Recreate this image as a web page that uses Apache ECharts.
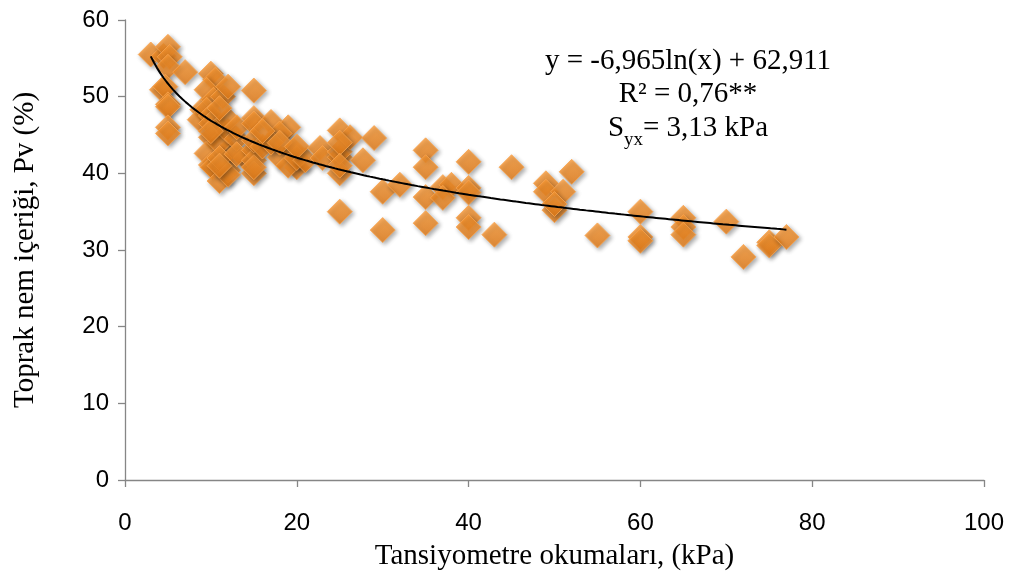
<!DOCTYPE html>
<html>
<head>
<meta charset="utf-8">
<script src="https://cdn.jsdelivr.net/npm/echarts@6/dist/echarts.min.js"></script>
<style>
html,body{margin:0;padding:0;background:#fff;}
#chart{width:1010px;height:577px;}
</style>
</head>
<body>
<div id="chart"></div>
<script>
// Tensiometer readings (kPa)
var xValues = [
  3,4.5,5,5.2,5,7,4.3,4.7,5,5,5,5,
  9,8.7,10,10.5,9.5,10.3,11.4,12,9.5,10,10,11,10,9.5,10,10.2,11,12,12,11,11,12,13,12,11,13,12,10,11,14,13,
  15,15,15,17,19,18,15,15,15,15,15,16,18,19.6,20,17,19,20,21,16,18,20,
  22.7,23,25,25,25,25,26.2,25,25,27.7,29,25,
  30,32,30,35,35,35,35,37,38,37,40,40,40,40,40,43,45,49,49,52,51,50,50,55,60,60,60,65,65,65,70,72,75,75,77
];
// Soil moisture Pv (%)
var yValues = [
  55.5,55.3,56.5,55.2,53.9,53.2,50.9,51.3,49,48.7,46,45.2,
  48.3,47,53,52.2,50.9,49.6,50,51.3,48.3,47.5,46.5,46,44.7,42.6,41.1,40.8,39,43,40.4,44,42,45.5,44.5,47,48.5,46,39.8,45.5,41,42,42.5,
  50.8,47.2,46.5,46.7,46,45.2,43,41.7,40,40.8,44.3,43.5,42.1,43,40.8,44,41,42,41.7,45.5,44,43.5,
  43.3,42,45.6,42.1,40,42.8,44.7,44,35,41.7,44.6,41,
  37.6,38.5,32.6,43,40.8,36.9,33.5,38.2,38.5,36.8,41.5,38.1,37.5,34.2,33,32,40.8,38.7,37.6,40.2,37.6,35.2,36,31.9,35,31.7,31.2,34.2,33,32,33.7,29.1,31,30.6,31.7
];
// Trendline coefficients as printed: y = a ln(x) + b, drawn over the data range
var trendCoef = [-6.965, 62.911];
var trendRange = [3, 77];
var xTicks = [0, 20, 40, 60, 80, 100];
var yTicks = [0, 10, 20, 30, 40, 50, 60];

var points = xValues.map(function(x, i){ return [x, yValues[i]]; });
var trend = [];
for (var i = 0; i <= 200; i++) {
  var x = trendRange[0] + (trendRange[1] - trendRange[0]) * i / 200;
  trend.push([x, trendCoef[0] * Math.log(x) + trendCoef[1]]);
}

var chart = echarts.init(document.getElementById('chart'));
var axisGray = '#868686';
var serif = '"Liberation Serif"';
chart.setOption({
  animation:false,
  backgroundColor:'#fff',
  grid:{left:125, right:26, top:20, bottom:97},
  xAxis:{
    type:'value', min:xTicks[0], max:xTicks[xTicks.length-1], interval:20,
    splitLine:{show:false},
    axisLine:{lineStyle:{color:axisGray, width:1.3}},
    axisTick:{show:true, length:7, lineStyle:{color:axisGray, width:1.3}},
    axisLabel:{margin:31, color:'#000', fontSize:24, fontFamily:'Liberation Sans'},
    name:'Tansiyometre okumaları, (kPa)', nameLocation:'middle', nameGap:62,
    nameTextStyle:{color:'#000', fontSize:29, fontFamily:'Liberation Serif'}
  },
  yAxis:{
    type:'value', min:yTicks[0], max:yTicks[yTicks.length-1], interval:10,
    splitLine:{show:false},
    axisLine:{show:true, lineStyle:{color:axisGray, width:1.3}},
    axisTick:{show:true, length:7, lineStyle:{color:axisGray, width:1.3}},
    axisLabel:{margin:16, color:'#000', fontSize:24, fontFamily:'Liberation Sans'},
    name:'Toprak nem içeriği, Pv (%)', nameLocation:'middle', nameGap:85,
    nameTextStyle:{color:'#000', fontSize:29, fontFamily:'Liberation Serif'}
  },
  series:[
    {
      type:'scatter', data:points, symbol:'diamond', symbolSize:25, z:2,
      itemStyle:{
        color:new echarts.graphic.LinearGradient(0,0,0,1,[
          {offset:0,color:'#FC9C38'},{offset:1,color:'#EA7E16'}
        ]),
        borderColor:'#F9A550', borderWidth:1,
        shadowBlur:4, shadowColor:'rgba(0,0,0,0.4)', shadowOffsetX:2, shadowOffsetY:2
      },
      emphasis:{disabled:true}
    },
    {
      type:'line', data:trend, showSymbol:false, symbol:'none', z:5,
      lineStyle:{color:'#000', width:2}, silent:true
    }
  ],
  graphic:[
    {type:'text', x:688, y:61, z:10,
     style:{text:'y = -6,965ln(x) + 62,911', fill:'#000', font:'29px ' + serif, textAlign:'center', textVerticalAlign:'middle'}},
    {type:'text', x:688, y:94, z:10,
     style:{text:'R² = 0,76**', fill:'#000', font:'29px ' + serif, textAlign:'center', textVerticalAlign:'middle'}},
    {type:'text', x:688, y:113, z:10,
     style:{
       text:'{a|S}{s|yx}{a|= 3,13 kPa}', textAlign:'center',
       rich:{
         a:{fill:'#000', fontSize:29, fontFamily:'Liberation Serif', verticalAlign:'bottom', lineHeight:30},
         s:{fill:'#000', fontSize:19, fontFamily:'Liberation Serif', verticalAlign:'bottom', lineHeight:20, padding:[0,0,-7,0]}
       }
     }}
  ]
});
</script>
</body>
</html>
